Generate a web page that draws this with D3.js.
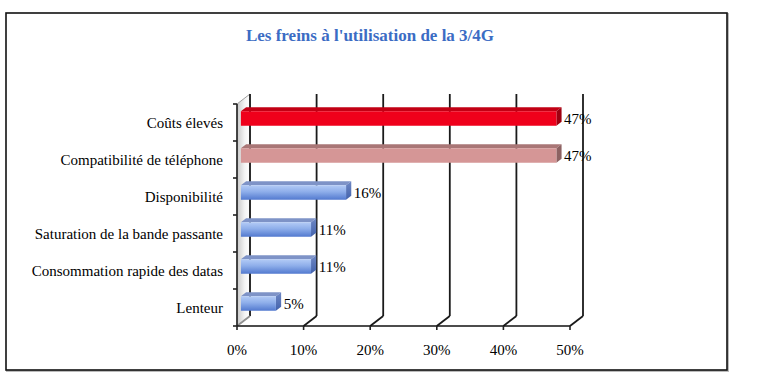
<!DOCTYPE html>
<html>
<head>
<meta charset="utf-8">
<script src="https://cdn.jsdelivr.net/npm/d3@7"></script>
<style>
  body { margin: 0; background: #fff; }
  svg { display: block; }
</style>
</head>
<body>
<div id="chart"></div>
<script>
const categories = ["Coûts élevés", "Compatibilité de téléphone", "Disponibilité",
    "Saturation de la bande passante", "Consommation rapide des datas", "Lenteur"];
const values = [47.37, 47.37, 15.79, 10.53, 10.53, 5.26];
const barStyle = ["red", "pink", "blue", "blue", "blue", "blue"];
const xTicks = [0, 10, 20, 30, 40, 50];
const title = "Les freins à l'utilisation de la 3/4G";

const W = 757, H = 377;
const depthX = 13, depthY = -10;   // 3D depth offset of the back wall
const serif = "'Liberation Serif', 'Times New Roman', serif";

const svg = d3.select("#chart")
    .append("svg")
    .attr("width", W)
    .attr("height", H);

const defs = svg.append("defs");

const blueGrad = defs.append("linearGradient")
    .attr("id", "blueFront").attr("x1", 0).attr("y1", 0).attr("x2", 0).attr("y2", 1);
blueGrad.append("stop").attr("offset", "0%").attr("stop-color", "#b3cbf6");
blueGrad.append("stop").attr("offset", "45%").attr("stop-color", "#8eaeea");
blueGrad.append("stop").attr("offset", "100%").attr("stop-color", "#5279cf");

const blueSide = defs.append("linearGradient")
    .attr("id", "blueSide").attr("x1", 0).attr("y1", 0).attr("x2", 0).attr("y2", 1);
blueSide.append("stop").attr("offset", "0%").attr("stop-color", "#6f88c4");
blueSide.append("stop").attr("offset", "100%").attr("stop-color", "#4262ac");

const wallGrad = defs.append("linearGradient")
    .attr("id", "wall").attr("x1", 0).attr("y1", 0).attr("x2", 1).attr("y2", 0);
wallGrad.append("stop").attr("offset", "0%").attr("stop-color", "#c8c8c8");
wallGrad.append("stop").attr("offset", "60%").attr("stop-color", "#f4f4f4");
wallGrad.append("stop").attr("offset", "100%").attr("stop-color", "#ffffff");

const colors = {
    red:  {front: "#ef001b", top: "#c20014", side: "#9e0010"},
    pink: {front: "#d59696", top: "#a97676", side: "#8d6262"},
    blue: {front: "url(#blueFront)", top: "#7e93c7", side: "url(#blueSide)"}
};

// outer frame with a little shadow
svg.append("rect")
    .attr("x", 7).attr("y", 14).attr("width", 721).attr("height", 357)
    .attr("fill", "none").attr("stroke", "#bbb").attr("stroke-width", 2);
svg.append("rect")
    .attr("x", 6).attr("y", 13).attr("width", 721).attr("height", 357)
    .attr("fill", "#fff").attr("stroke", "#111").attr("stroke-width", 1.6);

svg.append("text")
    .attr("x", 370)
    .attr("y", 41)
    .attr("text-anchor", "middle")
    .attr("font-family", serif)
    .attr("font-weight", "bold")
    .attr("font-size", "17px")
    .attr("fill", "#3b6cc4")
    .text(title);

const xScale = d3.scaleLinear().domain([0, 50]).range([237, 570]);
const yScale = d3.scaleBand().domain(categories).range([104, 326]);
const yTop = yScale.range()[0], yBot = yScale.range()[1];

const pts = a => a.map(p => p.join(",")).join(" ");

// left side wall
svg.append("polygon")
    .attr("points", pts([[xScale(0), yTop], [xScale(0) + depthX, yTop + depthY],
        [xScale(0) + depthX, yBot + depthY], [xScale(0), yBot]]))
    .attr("fill", "url(#wall)")
    .attr("stroke", "#a0a0a0")
    .attr("stroke-width", 1);

// back wall gridlines + floor diagonals
const grid = svg.append("g");
xTicks.forEach(t => {
    const x0 = xScale(t);
    grid.append("line")
        .attr("x1", x0 + depthX).attr("x2", x0 + depthX)
        .attr("y1", yTop + depthY).attr("y2", yBot + depthY)
        .attr("stroke", "#1a1a1a").attr("stroke-width", 1.8);
    grid.append("line")
        .attr("x1", x0).attr("y1", yBot)
        .attr("x2", x0 + depthX).attr("y2", yBot + depthY)
        .attr("stroke", t === 0 ? "#909090" : "#1a1a1a").attr("stroke-width", 1.8);
});

// floor front edge
svg.append("line")
    .attr("x1", xScale(0)).attr("x2", xScale(50))
    .attr("y1", yBot).attr("y2", yBot)
    .attr("stroke", "#111").attr("stroke-width", 1.6);

// left axis line + ticks
svg.append("line")
    .attr("x1", xScale(0)).attr("x2", xScale(0))
    .attr("y1", yTop).attr("y2", yBot)
    .attr("stroke", "#222").attr("stroke-width", 1.6);
const yTickPos = categories.map(c => yScale(c)).concat([yBot]);
svg.append("g").selectAll("line")
    .data(yTickPos)
    .join("line")
    .attr("x1", xScale(0) - 4).attr("x2", xScale(0))
    .attr("y1", d => d).attr("y2", d => d)
    .attr("stroke", "#222").attr("stroke-width", 1.6);

// bottom ticks + labels
svg.append("g").selectAll("line")
    .data(xTicks)
    .join("line")
    .attr("x1", d => xScale(d)).attr("x2", d => xScale(d))
    .attr("y1", yBot).attr("y2", yBot + 4)
    .attr("stroke", "#222").attr("stroke-width", 1.6);
svg.append("g").selectAll("text")
    .data(xTicks)
    .join("text")
    .attr("x", d => xScale(d))
    .attr("y", 355)
    .attr("text-anchor", "middle")
    .attr("font-family", serif)
    .attr("font-size", "15px")
    .attr("fill", "#000")
    .text(d => d + "%");

// category labels
svg.append("g").selectAll("text")
    .data(categories)
    .join("text")
    .attr("x", 223)
    .attr("y", d => yScale(d) + yScale.bandwidth() / 2 + 5)
    .attr("text-anchor", "end")
    .attr("font-family", serif)
    .attr("font-size", "15px")
    .attr("fill", "#000")
    .text(d => d);

// 3D bars: they sit between 30% and 70% of the depth
const f0 = 0.3, f1 = 0.7;
const bdx = depthX * (f1 - f0), bdy = depthY * (f1 - f0);
const barH = 14.5;

const bars = svg.append("g").selectAll("g")
    .data(categories.map((c, i) => ({cat: c, v: values[i], style: barStyle[i]})))
    .join("g");

bars.each(function (d) {
    const g = d3.select(this);
    const c = colors[d.style];
    const xa = xScale(0) + depthX * f0;
    const xb = xScale(d.v) + depthX * f0;
    const yc = yScale(d.cat) + yScale.bandwidth() / 2 + depthY * f0 - 1;
    const ya = yc - barH / 2, yb = yc + barH / 2;
    // top face
    g.append("polygon")
        .attr("points", pts([[xa, ya], [xa + bdx, ya + bdy], [xb + bdx, ya + bdy], [xb, ya]]))
        .attr("fill", c.top);
    // side face
    g.append("polygon")
        .attr("points", pts([[xb, ya], [xb + bdx, ya + bdy], [xb + bdx, yb + bdy], [xb, yb]]))
        .attr("fill", c.side);
    // front face
    g.append("rect")
        .attr("x", xa).attr("y", ya)
        .attr("width", xb - xa).attr("height", barH)
        .attr("fill", c.front);
    // value label
    g.append("text")
        .attr("x", xb + bdx + 2.5)
        .attr("y", yc + 5)
        .attr("font-family", serif)
        .attr("font-size", "15px")
        .attr("fill", "#000")
        .text(d3.format(".0f")(d.v) + "%");
});
</script>
</body>
</html>
